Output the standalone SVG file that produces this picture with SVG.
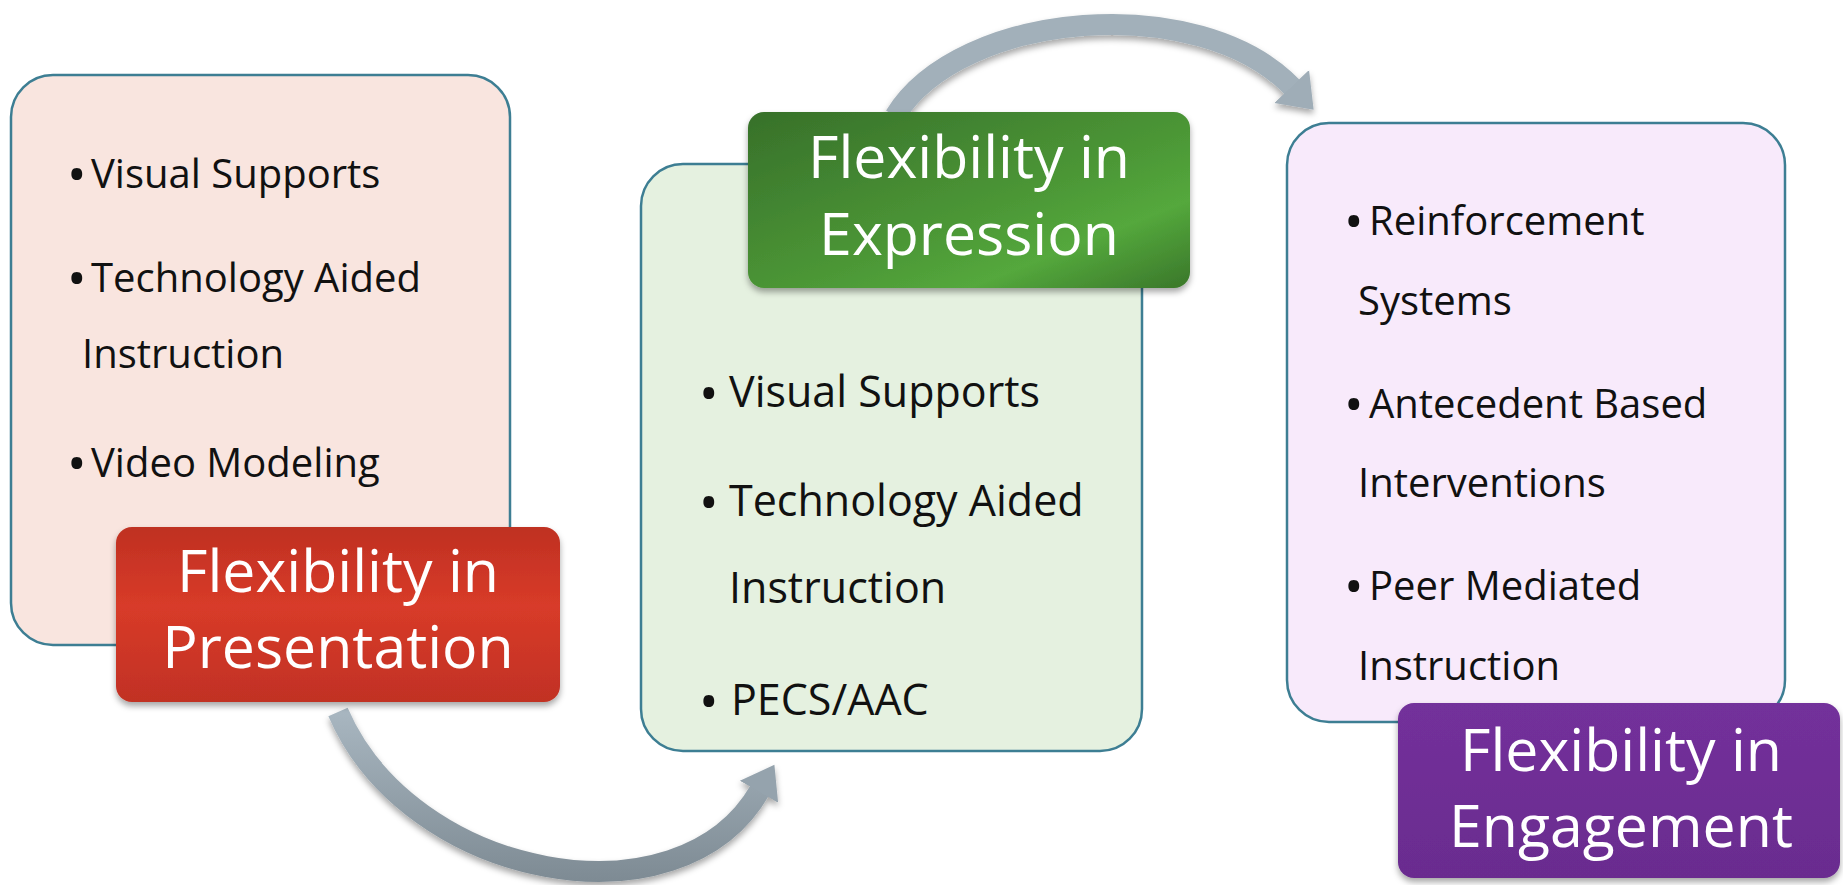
<svg xmlns="http://www.w3.org/2000/svg" width="1843" height="885" viewBox="0 0 1843 885">
<defs>
<style>
.box{stroke:#3d7e93;stroke-width:2.5}
.body{font-family:"Open Sans","Noto Sans",sans-serif;font-size:40px;fill:#111}
.bodyg{font-family:"Open Sans","Noto Sans",sans-serif;font-size:43px;fill:#111}
.bul{font-size:52px}
.lab{font-family:"Open Sans","Noto Sans",sans-serif;font-size:59px;fill:#fff;text-anchor:middle}
.arrow{fill:none;stroke-width:21}
</style>
<linearGradient id="gRed" x1="0" y1="0" x2="0" y2="1">
<stop offset="0" stop-color="#bf3022"/>
<stop offset="0.45" stop-color="#d83b29"/>
<stop offset="1" stop-color="#c13124"/>
</linearGradient>
<linearGradient id="gGreen" x1="0" y1="0" x2="1" y2="1">
<stop offset="0" stop-color="#37702a"/>
<stop offset="0.55" stop-color="#4c9736"/>
<stop offset="0.75" stop-color="#54a83c"/>
<stop offset="1" stop-color="#3a772a"/>
</linearGradient>
<linearGradient id="gPurple" x1="0" y1="0" x2="0" y2="1">
<stop offset="0" stop-color="#73309b"/>
<stop offset="1" stop-color="#6a2c8f"/>
</linearGradient>
<linearGradient id="gArrowB" gradientUnits="userSpaceOnUse" x1="0" y1="712" x2="0" y2="880">
<stop offset="0" stop-color="#a8b6c0"/>
<stop offset="1" stop-color="#7e8b94"/>
</linearGradient>
<filter id="sh" x="-10%" y="-10%" width="120%" height="130%">
<feDropShadow dx="0" dy="4" stdDeviation="3" flood-color="#000" flood-opacity="0.35"/>
</filter>
<marker id="headTop" markerUnits="userSpaceOnUse" orient="auto" markerWidth="40" markerHeight="60" refX="2" refY="25" viewBox="0 0 40 50">
<path d="M0,1 L32,25 L0,49 Z" fill="#9fadb7"/>
</marker>
<marker id="headBot" markerUnits="userSpaceOnUse" orient="auto" markerWidth="40" markerHeight="60" refX="2" refY="25" viewBox="0 0 40 50">
<path d="M0,3 L31,25 L0,47 Z" fill="#95a3ad"/>
</marker>
</defs>
<rect width="1843" height="885" fill="#ffffff"/>

<g id="connectors" filter="url(#sh)">
<path class="arrow" d="M 895 116 C 960 10, 1200 -10, 1293 88" stroke="#a2b0ba" marker-end="url(#headTop)"/>
<path class="arrow" d="M 338 712 C 410 880, 680 930, 760 790" stroke="url(#gArrowB)" marker-end="url(#headBot)"/>
</g>

<g id="node-presentation">
<rect class="box" x="11" y="75" width="499" height="570" rx="42" fill="#f9e5df"/>
<text class="body"><tspan class="bul" x="67" y="193">•</tspan><tspan x="91" y="188">Visual Supports</tspan></text>
<text class="body"><tspan class="bul" x="67" y="297">•</tspan><tspan x="91" y="292">Technology Aided</tspan></text>
<text class="body" x="82" y="368">Instruction</text>
<text class="body"><tspan class="bul" x="67" y="482">•</tspan><tspan x="91" y="477">Video Modeling</tspan></text>
<rect x="116" y="527" width="444" height="175" rx="16" fill="url(#gRed)" filter="url(#sh)"/>
<text class="lab" x="338" y="592">Flexibility in</text>
<text class="lab" x="338" y="668">Presentation</text>
</g>

<g id="node-expression">
<rect class="box" x="641" y="164" width="501" height="587" rx="42" fill="#e5f1e0"/>
<text class="bodyg"><tspan class="bul" x="699" y="412">•</tspan><tspan x="729" y="407">Visual Supports</tspan></text>
<text class="bodyg"><tspan class="bul" x="699" y="521">•</tspan><tspan x="729" y="516">Technology Aided</tspan></text>
<text class="bodyg" x="729" y="603">Instruction</text>
<text class="bodyg"><tspan class="bul" x="699" y="720">•</tspan><tspan x="731" y="715">PECS/AAC</tspan></text>
<rect x="748" y="112" width="442" height="176" rx="16" fill="url(#gGreen)" filter="url(#sh)"/>
<text class="lab" x="969" y="178">Flexibility in</text>
<text class="lab" x="969" y="255">Expression</text>
</g>

<g id="node-engagement">
<rect class="box" x="1287" y="123" width="498" height="599" rx="42" fill="#f8eafb"/>
<text class="body"><tspan class="bul" x="1344" y="240">•</tspan><tspan x="1369" y="235">Reinforcement</tspan></text>
<text class="body" x="1358" y="315">Systems</text>
<text class="body"><tspan class="bul" x="1344" y="423">•</tspan><tspan x="1369" y="418">Antecedent Based</tspan></text>
<text class="body" x="1358" y="497">Interventions</text>
<text class="body"><tspan class="bul" x="1344" y="605">•</tspan><tspan x="1369" y="600">Peer Mediated</tspan></text>
<text class="body" x="1358" y="680">Instruction</text>
<rect x="1398" y="703" width="442" height="175" rx="16" fill="url(#gPurple)" filter="url(#sh)"/>
<text class="lab" x="1621" y="771">Flexibility in</text>
<text class="lab" x="1621" y="847">Engagement</text>
</g>
</svg>
